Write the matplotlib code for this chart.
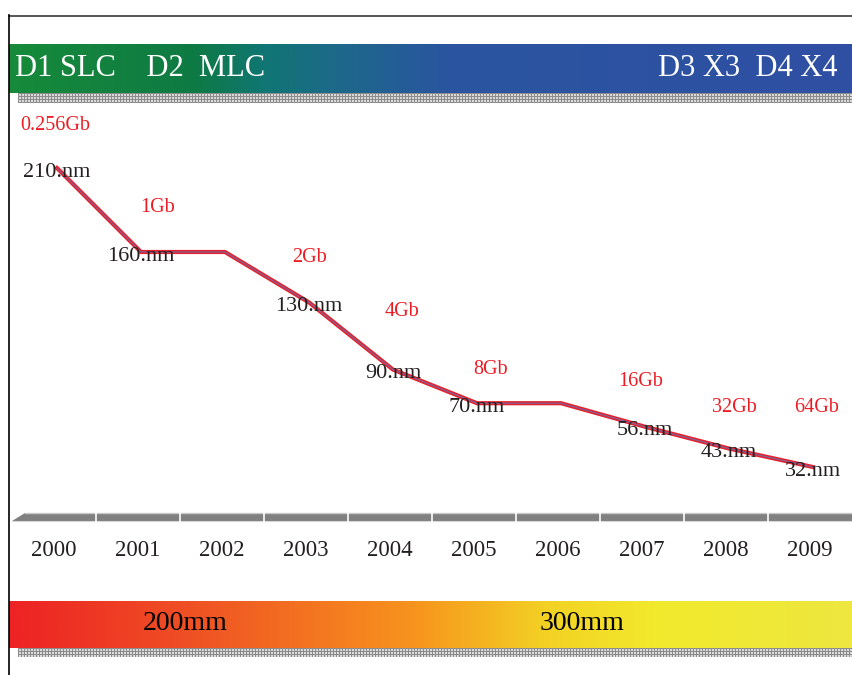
import numpy as np
import matplotlib
matplotlib.use('Agg')
import matplotlib.pyplot as plt
from matplotlib.colors import LinearSegmentedColormap
from matplotlib.patches import Polygon

plt.rcParams['font.family'] = ['Liberation Serif', 'DejaVu Serif']

# 数据
years = [2000, 2001, 2002, 2003, 2004, 2005, 2006, 2007, 2008, 2009]
node_nm = [210, 160, 160, 130, 90, 70, 70, 56, 43, 32]
node_labels = ['210.nm', '160.nm', '', '130.nm', '90.nm', '70.nm', '', '56.nm', '43.nm', '32.nm']
density_labels = ['0.256Gb', '1Gb', '2Gb', '4Gb', '8Gb', '16Gb', '32Gb', '64Gb']
band_left = 'D1 SLC    D2  MLC'
band_right = 'D3 X3  D4 X4'
wafer_labels = ['200mm', '300mm']

# 版面 (像素)
W, H = 853, 675
density_pos = [(20, 126, 'left'), (158, 207, 'center'), (310, 258, 'center'),
               (402, 312, 'center'), (491, 370, 'center'), (641, 381, 'center'),
               (734, 407, 'center'), (817, 407, 'center')]
wafer_pos = [185, 582]

fig = plt.figure(figsize=(W / 100, H / 100), dpi=100)
deco = fig.add_axes([0, 0, 1, 1])
deco.set_xlim(0, W)
deco.set_ylim(H, 0)
deco.axis('off')


def gradient(ax, x0, x1, y0, y1, colors, stops):
    cmap = LinearSegmentedColormap.from_list('g', list(zip(stops, colors)))
    grad = np.linspace(0, 1, 512).reshape(1, -1)
    ax.imshow(grad, cmap=cmap, aspect='auto', extent=(x0, x1, y1, y0),
              interpolation='bilinear', zorder=1)


def hatch_strip(ax, x0, x1, y0, y1):
    h, w = int(y1 - y0), int(x1 - x0)
    ii, jj = np.mgrid[0:h, 0:w]
    pat = np.where((ii % 3 == 0) | (jj % 3 == 0), 0.55, 0.85)
    ax.imshow(pat, cmap='gray', vmin=0, vmax=1, aspect='auto',
              extent=(x0, x1, y1, y0), interpolation='nearest', zorder=1)


# 边框
deco.plot([9, W], [15.5, 15.5], color='#3a3a3a', lw=1.2, zorder=3)
deco.plot([9.5, 9.5], [15, H], color='black', lw=1.2, zorder=3)

# 顶部色带
gradient(deco, 9, W, 44, 93,
         ['#178a3a', '#0e7a44', '#107673', '#1c6a88', '#2a55a0', '#2f4fa3'],
         [0.0, 0.22, 0.3, 0.38, 0.52, 1.0])
hatch_strip(deco, 18, W, 93, 103)
deco.text(15, 69, band_left, color='white', fontsize=22, va='center', ha='left', zorder=4)
deco.text(838, 69, band_right, color='white', fontsize=22, va='center', ha='right', zorder=4)

# 底部色带
gradient(deco, 9, W, 601, 648,
         ['#ed2224', '#ef5224', '#f7941d', '#f3d224', '#f2ea2c', '#ede740'],
         [0.0, 0.22, 0.48, 0.64, 0.77, 1.0])
hatch_strip(deco, 18, W, 648, 657)
for lab, xp in zip(wafer_labels, wafer_pos):
    deco.text(xp, 623, lab, color='black', fontsize=20, ha='center', va='center', zorder=4)

# 时间轴
deco.add_patch(Polygon([(12, 521), (25, 513), (W, 513), (W, 521)], closed=True,
                       facecolor='#808080', edgecolor='none', zorder=2))
deco.plot([25, W], [513.3, 513.3], color='#c8c8c8', lw=1, zorder=3)
deco.plot([12, W], [521, 521], color='#d8d8d8', lw=0.8, zorder=3)

# 折线
ax = fig.add_axes([0, 0, 1, 1])
x0_px, dx_px = 57, 84.0
y0_px, dy_px = 168, 1.68
ax.set_xlim(2000 - x0_px / dx_px, 2000 + (W - x0_px) / dx_px)
ax.set_ylim(210 - (H - y0_px) / dy_px, 210 + y0_px / dy_px)
ax.axis('off')
ax.patch.set_visible(False)

ax.plot(years, node_nm, color='#e8202a', lw=3.0, solid_joinstyle='miter', zorder=5)
ax.plot(years, node_nm, color='#6a6fb0', lw=0.9, alpha=0.8, zorder=6)

for yr, v, lab in zip(years, node_nm, node_labels):
    if lab:
        ax.annotate(lab, (yr, v), xytext=(0, -3), textcoords='offset points',
                    ha='center', va='center', fontsize=16, color='#231f20', zorder=7)

# 年份与分隔
xa = ax.get_xaxis_transform()
for yr in years:
    ax.text(yr - 0.035, (H - 550) / H, str(yr), transform=xa, ha='center',
            va='center', fontsize=16.5, color='#231f20')
for yr in years[:-1]:
    ax.plot([yr + 0.47, yr + 0.47], [(H - 513) / H, (H - 521) / H], transform=xa,
            color='white', lw=1.2, zorder=4)

for lab, (xp, yp, ha) in zip(density_labels, density_pos):
    deco.text(xp, yp, lab, color='#ed1c24', fontsize=14.5, ha=ha, va='center', zorder=4)

fig.savefig('out.png', dpi=100)
